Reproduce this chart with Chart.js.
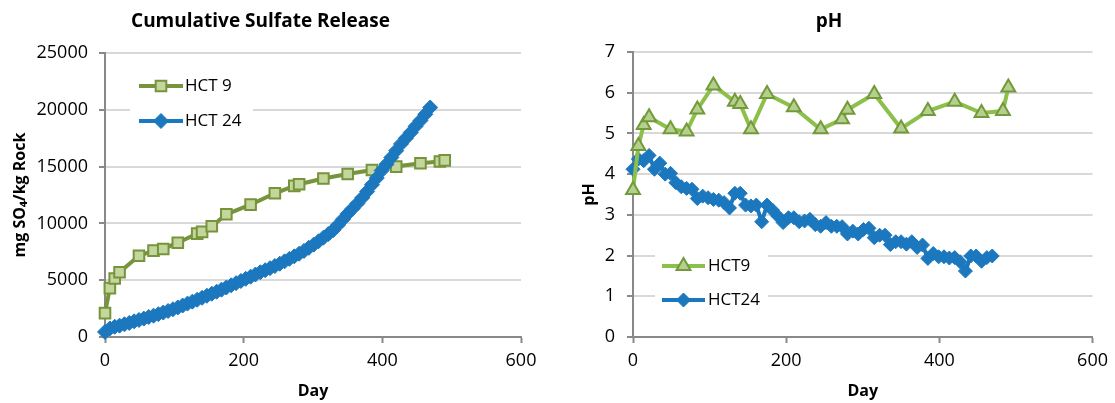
<!DOCTYPE html>
<html>
<head>
<meta charset="utf-8">
<script src="https://cdn.jsdelivr.net/npm/chart.js@4.4.1/dist/chart.umd.min.js"></script>
<style>
  body { margin: 0; background: #fff; }
  #wrap { position: relative; width: 1115px; height: 403px; }
  .box { position: absolute; top: 0; height: 403px; }
  #left { left: 0; width: 560px; }
  #right { left: 560px; width: 555px; }
</style>
</head>
<body>
<div id="wrap">
  <div class="box" id="left"><canvas id="sulfate" width="560" height="403"></canvas></div>
  <div class="box" id="right"><canvas id="ph" width="555" height="403"></canvas></div>
</div>
<script>
// HCT 9 sampling days and readings
var hct9Days = [0, 7, 14, 21, 49, 70, 84, 105, 133, 140, 154, 175, 210, 245, 273, 280, 315, 350, 385, 420, 455, 483, 490];
var hct9Sulfate = [2100, 4300, 5150, 5700, 7150, 7600, 7750, 8300, 9100, 9250, 9750, 10800, 11650, 12650, 13300, 13450, 13950, 14350, 14700, 15000, 15300, 15450, 15550];
var hct9PH = [3.61, 4.69, 5.21, 5.40, 5.10, 5.05, 5.59, 6.18, 5.78, 5.72, 5.10, 5.97, 5.64, 5.10, 5.35, 5.58, 5.97, 5.12, 5.55, 5.78, 5.50, 5.55, 6.13];

// HCT 24 weekly readings
var hct24Days = [0, 7, 14, 21, 28, 35, 42, 49, 56, 63, 70, 77, 84, 91, 98, 105, 112, 119, 126, 133,
  140, 147, 154, 161, 168, 175, 182, 189, 196, 203, 210, 217, 224, 231, 238, 245, 252, 259, 266, 273,
  280, 287, 294, 301, 308, 315, 322, 329, 336, 343, 350, 357, 364, 371, 378, 385, 392, 399, 406, 413,
  420, 427, 434, 441, 448, 455, 462, 469];
var hct24Sulfate = [450, 750, 900, 1000, 1120, 1240, 1380, 1500, 1620, 1760, 1880, 2010, 2150, 2290, 2440, 2600, 2770, 2940, 3110, 3280,
  3450, 3630, 3810, 3990, 4170, 4360, 4550, 4740, 4930, 5120, 5310, 5500, 5700, 5880, 6060, 6250, 6450, 6660, 6880, 7100,
  7330, 7580, 7850, 8130, 8430, 8740, 9060, 9400, 9850, 10350, 10850, 11300, 11750, 12250, 12800, 13400, 14000, 14650, 15200, 15800,
  16400, 17000, 17500, 18000, 18550, 19050, 19600, 20200];
var hct24PH = [4.12, 4.37, 4.33, 4.46, 4.12, 4.27, 4.00, 4.02, 3.79, 3.69, 3.65, 3.63, 3.40, 3.46, 3.42, 3.38, 3.36, 3.30, 3.17, 3.53,
  3.53, 3.24, 3.22, 3.24, 2.83, 3.24, 3.12, 2.97, 2.81, 2.93, 2.93, 2.83, 2.85, 2.89, 2.76, 2.72, 2.81, 2.72, 2.72, 2.71,
  2.53, 2.60, 2.53, 2.64, 2.67, 2.44, 2.50, 2.50, 2.27, 2.34, 2.34, 2.28, 2.34, 2.20, 2.26, 1.93, 2.05, 1.97, 1.97, 1.94,
  1.95, 1.85, 1.62, 1.99, 1.99, 1.86, 1.95, 1.99];

var seriesNames9 = ["HCT 9", "HCT9"];
var seriesNames24 = ["HCT 24", "HCT24"];

function pairs(xs, ys) {
  return xs.map(function (x, i) { return { x: x, y: ys[i] }; });
}

Chart.defaults.font.family = "'Open Sans', sans-serif";
Chart.defaults.color = "#000";

// legend drawn inside the plot, on a white patch over the gridlines
var boxLegend = {
  id: "boxLegend",
  afterDatasetsDraw: function (chart, args, o) {
    var ctx = chart.ctx;
    ctx.save();
    ctx.fillStyle = "#fff";
    ctx.fillRect(o.left, o.top, o.width, o.height);
    chart.data.datasets.forEach(function (ds, i) {
      var y = o.rows[i];
      ctx.strokeStyle = ds.borderColor;
      ctx.lineWidth = ds.borderWidth;
      ctx.beginPath();
      ctx.moveTo(o.lineFrom, y);
      ctx.lineTo(o.lineTo, y);
      ctx.stroke();
      ctx.fillStyle = ds.pointBackgroundColor;
      ctx.strokeStyle = ds.pointBorderColor;
      ctx.lineWidth = ds.pointBorderWidth;
      Chart.helpers.drawPoint(ctx, { pointStyle: ds.pointStyle, radius: ds.pointRadius, rotation: 0, borderWidth: ds.pointBorderWidth }, (o.lineFrom + o.lineTo) / 2, y);
      ctx.fillStyle = "#000";
      ctx.font = "17px 'Open Sans', sans-serif";
      ctx.textBaseline = "middle";
      ctx.textAlign = "left";
      ctx.fillText(ds.label, o.textX, y);
    });
    ctx.restore();
  }
};

function xAxis() {
  return {
    type: "linear", min: 0, max: 600,
    ticks: { stepSize: 200, padding: 7, font: { size: 18 } },
    grid: { drawOnChartArea: false, tickLength: 6, tickColor: "#898989", tickWidth: 2 },
    border: { color: "#898989", width: 2 },
    title: { display: true, text: "Day", font: { size: 16, weight: "bold" }, padding: { top: 0, bottom: 2 } },
    afterFit: function (s) { s.height = 66; }
  };
}

new Chart(document.getElementById("sulfate"), {
  type: "line",
  data: {
    datasets: [
      {
        label: seriesNames9[0], data: pairs(hct9Days, hct9Sulfate), order: 1,
        borderColor: "#77933c", borderWidth: 4,
        pointStyle: "rect", pointRadius: 7.5, pointBorderWidth: 2,
        pointBackgroundColor: "#c3d69b", pointBorderColor: "#77933c"
      },
      {
        label: seriesNames24[0], data: pairs(hct24Days, hct24Sulfate), order: 0,
        borderColor: "#1c78be", borderWidth: 4,
        pointStyle: "rectRot", pointRadius: 7.5, pointBorderWidth: 1,
        pointBackgroundColor: "#1c78be", pointBorderColor: "#1c78be"
      }
    ]
  },
  options: {
    responsive: false, animation: false,
    clip: false,
    layout: { padding: { left: 0, right: 39, top: 0, bottom: 0 } },
    plugins: {
      legend: { display: false },
      tooltip: { enabled: false },
      title: { display: true, text: "Cumulative Sulfate Release", font: { size: 19, weight: "bold" }, padding: { top: 10.6, bottom: 19.6 } },
      boxLegend: { left: 130, top: 66, width: 123, height: 74, rows: [86, 121], lineFrom: 139, lineTo: 183, textX: 185 }
    },
    scales: {
      x: xAxis(),
      y: {
        min: 0, max: 25000,
        ticks: { stepSize: 5000, padding: 11, font: { size: 18 }, format: { useGrouping: false } },
        grid: { color: "#d9d9d9", lineWidth: 2, tickLength: 6, tickColor: "#898989", tickWidth: 2 },
        border: { color: "#898989", width: 2 },
        title: { display: true, text: "mg SO\u2084/kg Rock", font: { size: 16, weight: "bold" }, padding: { top: 11, bottom: 0 } },
        afterFit: function (s) { s.width = 105; }
      }
    }
  },
  plugins: [boxLegend]
});

new Chart(document.getElementById("ph"), {
  type: "line",
  data: {
    datasets: [
      {
        label: seriesNames9[1], data: pairs(hct9Days, hct9PH),
        borderColor: "#8cc04a", borderWidth: 4,
        pointStyle: "triangle", pointRadius: 8, pointBorderWidth: 2,
        pointBackgroundColor: "#b5d08c", pointBorderColor: "#72993c"
      },
      {
        label: seriesNames24[1], data: pairs(hct24Days, hct24PH),
        borderColor: "#1c78be", borderWidth: 4,
        pointStyle: "rectRot", pointRadius: 7, pointBorderWidth: 1,
        pointBackgroundColor: "#1c78be", pointBorderColor: "#1c78be"
      }
    ]
  },
  options: {
    responsive: false, animation: false,
    clip: false,
    layout: { padding: { left: 0, right: 17, top: 0, bottom: 0 } },
    plugins: {
      legend: { display: false },
      tooltip: { enabled: false },
      title: { display: true, text: "pH", font: { size: 19, weight: "bold" }, padding: { top: 10.6, bottom: 18.6 } },
      boxLegend: { left: 95, top: 249, width: 113, height: 67, rows: [266, 300], lineFrom: 102, lineTo: 145, textX: 148 }
    },
    scales: {
      x: xAxis(),
      y: {
        min: 0, max: 7,
        ticks: { stepSize: 1, padding: 12, font: { size: 18 } },
        grid: { color: "#d9d9d9", lineWidth: 2, tickLength: 6, tickColor: "#898989", tickWidth: 2 },
        border: { color: "#898989", width: 2 },
        title: { display: true, text: "pH", font: { size: 16, weight: "bold" }, padding: { top: 19.4, bottom: 0 } },
        afterFit: function (s) { s.width = 73; }
      }
    }
  },
  plugins: [boxLegend]
});
</script>
</body>
</html>
